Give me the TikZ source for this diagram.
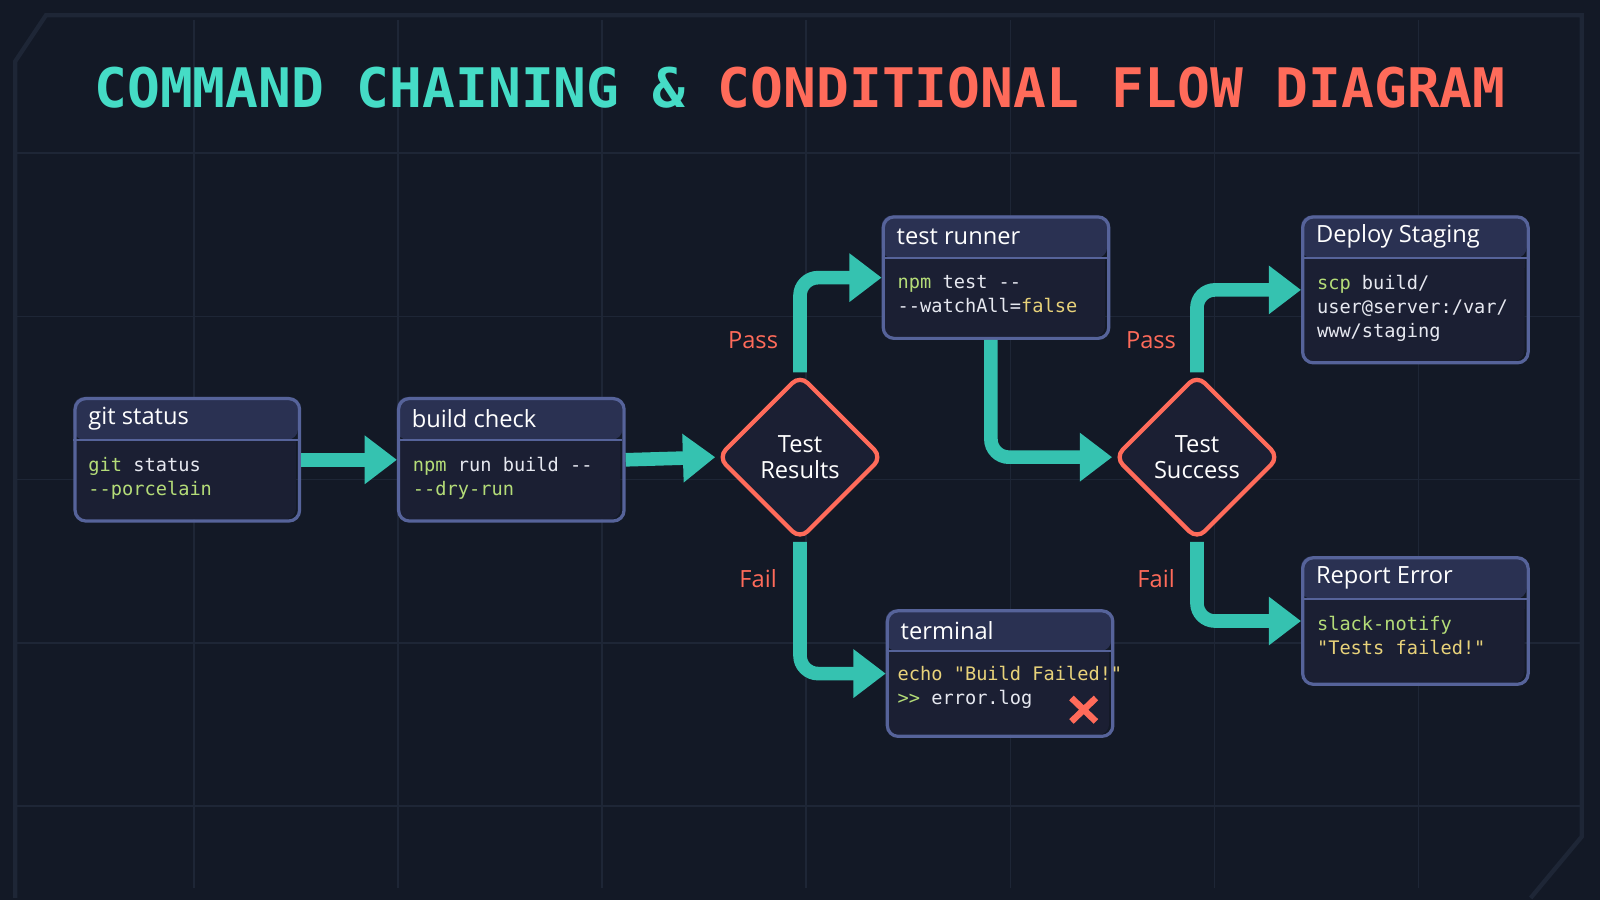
\documentclass[tikz,border=0pt]{standalone}
\usepackage{fontspec}
\setmainfont{Open Sans}
\setmonofont{DejaVu Sans Mono}
\usetikzlibrary{arrows.meta,shapes.geometric}

\definecolor{bgcol}{HTML}{131926}
\definecolor{gridcol}{HTML}{1E2636}
\definecolor{tealc}{HTML}{35C2B0}
\definecolor{titleteal}{HTML}{45DCC6}
\definecolor{redc}{HTML}{FF6B5A}
\definecolor{boxfill}{HTML}{1B1F33}
\definecolor{headfill}{HTML}{2A3152}
\definecolor{boxline}{HTML}{56639A}
\definecolor{codegreen}{HTML}{B4DC78}
\definecolor{codeyellow}{HTML}{E8D27A}
\definecolor{codewhite}{HTML}{E6E8F0}

\tikzset{
  head/.style={fill=headfill, rounded corners=3pt},
  title/.style={anchor=west, text=white, inner sep=0pt, font=\fontsize{6.6}{8}\selectfont},
  code/.style={anchor=north west, text=codewhite, align=left, inner sep=0pt,
    font=\ttfamily\fontsize{5.2}{6.7}\selectfont},
  decide/.style={diamond, draw=redc, line width=1.2pt, fill=boxfill, rounded corners=3pt,
    minimum width=1.62cm, minimum height=1.62cm, inner sep=0pt, text=white, align=center,
    font=\fontsize{6.6}{7.4}\selectfont},
  flow/.style={line width=3.8pt, tealc, -{Triangle[length=9pt,width=13pt]}},
  branch/.style={text=redc, font=\fontsize{6.6}{8}\selectfont},
}

% box: name, left, top, right, bottom, header bottom, title
\newcommand\cmdbox[7]{%
  \fill[head] (#2,#3) rectangle (#4,#6);
  \fill[boxfill, rounded corners=3pt] (#2+0.02,#6) rectangle (#4-0.02,#5);
  \fill[boxfill] (#2+0.02,#6) rectangle (#4-0.02,#6+0.1);
  \draw[boxline, line width=0.7pt] (#2,#6) -- (#4,#6);
  \node[draw=boxline, line width=0.9pt, rounded corners=3pt, anchor=north west, inner sep=0pt,
    minimum width=#4cm-#2cm, minimum height=#5cm-#3cm] (#1) at (#2,#3) {};
  \node[title] at (#2+0.14,{(#3+#6)/2}) {#7};
}
\newcommand\kw[1]{\textcolor{codegreen}{#1}}
\newcommand\str[1]{\textcolor{codeyellow}{#1}}

\begin{document}
\begin{tikzpicture}[x=1cm,y=-1cm]
  \fill[bgcol] (0,0) rectangle (15.68,8.82);
  \useasboundingbox (0,0) rectangle (15.68,8.82);

  % Hintergrundraster
  \foreach \x in {1.9,3.9,5.9,7.9,9.9,11.9,13.9} {
    \draw[gridcol, line width=0.4pt] (\x,0.2) -- (\x,8.7);
  }
  \foreach \y in {1.5,3.1,4.7,6.3,7.9} {
    \draw[gridcol, line width=0.4pt] (0.15,\y) -- (15.5,\y);
  }
  \draw[gridcol, line width=1.2pt] (0.15,8.8) -- (0.15,0.6) -- (0.45,0.15) -- (15.5,0.15) -- (15.5,8.2) -- (15.0,8.8);

  % Titel
  \node (heading) at (7.84,0.86) {\ttfamily\bfseries\fontsize{15.2}{17}\selectfont
    \textcolor{titleteal}{COMMAND CHAINING \&} \textcolor{redc}{CONDITIONAL FLOW DIAGRAM}};

  % Kommandos
  \cmdbox{gitbox}{0.72}{3.89}{2.92}{5.09}{4.31}{git status}
  \node[code] at (0.86,4.47) {\kw{git} status\\\kw{--porcelain}};

  \cmdbox{buildbox}{3.89}{3.89}{6.10}{5.09}{4.31}{build check}
  \node[code] at (4.04,4.47) {\kw{npm} run build --\\\kw{--dry-run}};

  \cmdbox{runner}{8.64}{2.11}{10.85}{3.30}{2.53}{test runner}
  \node[code] at (8.79,2.69) {\kw{npm} test --\\--watchAll=\str{false}};

  \cmdbox{terminal}{8.68}{5.97}{10.89}{7.20}{6.38}{terminal}
  \node[code] at (8.79,6.52) {\str{echo "Build Failed!"}\\\kw{>>} error.log};
  \draw[redc, line width=1.8pt] (10.50,6.84) -- (10.74,7.07) (10.50,7.07) -- (10.74,6.84);
  \coordinate (cross) at (10.62,6.95);

  \cmdbox{deploy}{12.75}{2.11}{14.96}{3.54}{2.53}{Deploy Staging}
  \node[code] at (12.90,2.69) {\kw{scp} build/\\user@server:/var/\\www/staging};

  \cmdbox{report}{12.75}{5.45}{14.96}{6.69}{5.87}{Report Error}
  \node[code] at (12.90,6.03) {\kw{slack-notify}\\\str{"Tests failed!"}};

  % Entscheidungen
  \node[decide] (results) at (7.84,4.48) {Test\\Results};
  \node[decide] (success) at (11.73,4.48) {Test\\Success};

  % Verbindungen
  \draw[flow] (gitbox.east) -- (buildbox.west);
  \draw[flow] (buildbox.east) -- (results.west);
  \draw[flow, rounded corners=5pt] (results.north) |- (runner.west);
  \draw[flow, rounded corners=5pt] (results.south) |- (terminal.west);
  \draw[flow, rounded corners=5pt] ([xshift=-0.05cm]runner.south) |- (success.west);
  \draw[flow, rounded corners=5pt] (success.north) |- (deploy.west);
  \draw[flow, rounded corners=5pt] (success.south) |- (report.west);

  % Beschriftungen
  \node[branch] (pass1) at (7.38,3.33) {Pass};
  \node[branch] (fail1) at (7.43,5.67) {Fail};
  \node[branch] (pass2) at (11.28,3.33) {Pass};
  \node[branch] (fail2) at (11.33,5.67) {Fail};
\end{tikzpicture}
\end{document}
